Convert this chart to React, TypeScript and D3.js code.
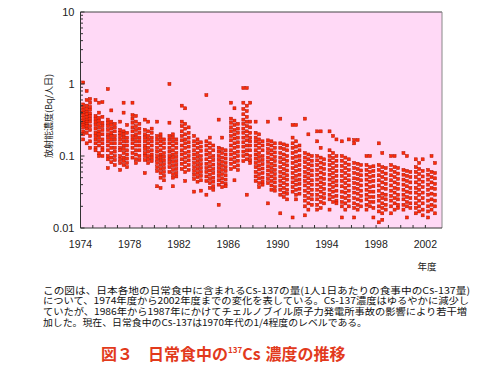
import React from "react";
import * as d3 from "d3";

// survey years (fiscal year)
const years = [
  1974, 1975, 1976, 1977, 1978, 1979, 1980, 1981, 1982, 1983,
  1984, 1985, 1986, 1987, 1988, 1989, 1990, 1991, 1992, 1993,
  1994, 1995, 1996, 1997, 1998, 1999, 2000, 2001, 2002,
];

// Cs-137 in daily diet (Bq/person/day), three sample groups per year
const groupA = [
  [1.05, 0.52, 0.47, 0.43, 0.4, 0.37, 0.34, 0.31, 0.29, 0.27, 0.25, 0.22, 0.2, 0.17],
  [0.6, 0.36, 0.33, 0.3, 0.27, 0.24, 0.21, 0.19, 0.17, 0.15, 0.13, 0.12],
  [0.85, 0.32, 0.29, 0.26, 0.23, 0.2, 0.18, 0.16, 0.14, 0.12, 0.1, 0.09, 0.068],
  [0.3, 0.23, 0.21, 0.19, 0.17, 0.15, 0.13, 0.12, 0.1, 0.09, 0.08, 0.064],
  [0.55, 0.37, 0.33, 0.29, 0.25, 0.22, 0.19, 0.17, 0.15, 0.13, 0.11, 0.095],
  [0.32, 0.23, 0.2, 0.18, 0.16, 0.14, 0.125, 0.11, 0.1, 0.088, 0.058],
  [0.3, 0.19, 0.17, 0.15, 0.13, 0.115, 0.1, 0.09, 0.08, 0.07, 0.062, 0.038],
  [1.0, 0.29, 0.19, 0.17, 0.15, 0.13, 0.115, 0.1, 0.09, 0.08, 0.07, 0.06],
  [0.5, 0.3, 0.26, 0.22, 0.19, 0.165, 0.14, 0.12, 0.105, 0.09, 0.078, 0.066],
  [0.19, 0.16, 0.14, 0.12, 0.105, 0.092, 0.08, 0.07, 0.062, 0.055, 0.048, 0.032],
  [0.7, 0.16, 0.14, 0.12, 0.105, 0.09, 0.078, 0.068, 0.06, 0.052, 0.045, 0.029],
  [0.32, 0.13, 0.115, 0.1, 0.088, 0.077, 0.068, 0.06, 0.053, 0.046, 0.04, 0.021],
  [0.55, 0.33, 0.29, 0.25, 0.22, 0.19, 0.165, 0.14, 0.12, 0.105, 0.09, 0.078, 0.066],
  [0.88, 0.55, 0.45, 0.38, 0.32, 0.28, 0.24, 0.21, 0.18, 0.155, 0.135, 0.115, 0.1, 0.085],
  [0.3, 0.21, 0.18, 0.16, 0.14, 0.12, 0.105, 0.092, 0.08, 0.07, 0.06, 0.052, 0.045],
  [0.3, 0.165, 0.145, 0.125, 0.11, 0.095, 0.083, 0.072, 0.063, 0.055, 0.048, 0.042, 0.022],
  [0.33, 0.15, 0.13, 0.11, 0.095, 0.082, 0.07, 0.06, 0.052, 0.045, 0.039, 0.034, 0.029, 0.016],
  [0.27, 0.18, 0.15, 0.13, 0.11, 0.094, 0.08, 0.068, 0.058, 0.05, 0.043, 0.037, 0.032, 0.014],
  [0.33, 0.11, 0.095, 0.082, 0.07, 0.06, 0.052, 0.045, 0.039, 0.033, 0.028, 0.024, 0.02, 0.015],
  [0.22, 0.16, 0.1, 0.087, 0.075, 0.064, 0.055, 0.047, 0.04, 0.034, 0.029, 0.025, 0.021, 0.018],
  [0.22, 0.12, 0.1, 0.087, 0.075, 0.064, 0.055, 0.047, 0.04, 0.034, 0.029, 0.025, 0.018],
  [0.16, 0.1, 0.086, 0.073, 0.062, 0.053, 0.045, 0.038, 0.032, 0.027, 0.023, 0.02, 0.014],
  [0.167, 0.15, 0.08, 0.068, 0.058, 0.049, 0.042, 0.036, 0.031, 0.026, 0.022, 0.019, 0.014],
  [0.1, 0.075, 0.064, 0.055, 0.047, 0.04, 0.034, 0.029, 0.025, 0.021, 0.018],
  [0.15, 0.075, 0.064, 0.054, 0.046, 0.039, 0.033, 0.028, 0.024, 0.02, 0.017, 0.012],
  [0.1, 0.075, 0.064, 0.054, 0.046, 0.039, 0.033, 0.028, 0.024, 0.02, 0.016],
  [0.11, 0.064, 0.055, 0.047, 0.04, 0.034, 0.029, 0.025, 0.021, 0.018],
  [0.09, 0.07, 0.06, 0.051, 0.043, 0.036, 0.031, 0.026, 0.022, 0.019, 0.016],
  [0.064, 0.055, 0.047, 0.04, 0.034, 0.029, 0.024, 0.02, 0.017, 0.014],
];
const groupB = [
  [0.8, 0.6, 0.5, 0.45, 0.41, 0.38, 0.35, 0.32, 0.3, 0.28, 0.26, 0.24, 0.21, 0.15],
  [0.55, 0.4, 0.34, 0.31, 0.28, 0.25, 0.22, 0.2, 0.18, 0.16, 0.14, 0.11, 0.1],
  [0.43, 0.3, 0.27, 0.24, 0.21, 0.19, 0.17, 0.15, 0.13, 0.11, 0.095, 0.082],
  [0.55, 0.4, 0.22, 0.2, 0.18, 0.16, 0.14, 0.125, 0.11, 0.095, 0.085, 0.075],
  [0.36, 0.3, 0.26, 0.23, 0.2, 0.18, 0.16, 0.14, 0.12, 0.105, 0.09, 0.08],
  [0.3, 0.22, 0.19, 0.17, 0.15, 0.13, 0.115, 0.1, 0.09, 0.08],
  [0.2, 0.18, 0.16, 0.14, 0.12, 0.105, 0.095, 0.085, 0.075, 0.066, 0.058, 0.05, 0.036],
  [0.2, 0.18, 0.16, 0.14, 0.12, 0.105, 0.094, 0.083, 0.073, 0.064, 0.056, 0.05, 0.038],
  [0.46, 0.28, 0.24, 0.2, 0.17, 0.15, 0.13, 0.11, 0.095, 0.082, 0.07, 0.06, 0.045],
  [0.17, 0.15, 0.13, 0.11, 0.097, 0.085, 0.075, 0.066, 0.058, 0.051, 0.044],
  [0.18, 0.15, 0.13, 0.11, 0.096, 0.083, 0.072, 0.063, 0.055, 0.048, 0.042, 0.036],
  [0.18, 0.125, 0.11, 0.095, 0.083, 0.073, 0.064, 0.056, 0.049, 0.043, 0.037],
  [0.46, 0.31, 0.27, 0.23, 0.2, 0.175, 0.15, 0.13, 0.11, 0.095, 0.082, 0.07, 0.046],
  [0.88, 0.5, 0.42, 0.35, 0.3, 0.26, 0.22, 0.19, 0.165, 0.14, 0.12, 0.105, 0.09, 0.029],
  [0.2, 0.17, 0.15, 0.13, 0.11, 0.097, 0.085, 0.074, 0.065, 0.056, 0.049, 0.042, 0.037],
  [0.16, 0.14, 0.12, 0.105, 0.09, 0.078, 0.068, 0.06, 0.052, 0.045, 0.039, 0.034],
  [0.145, 0.125, 0.105, 0.09, 0.077, 0.066, 0.057, 0.049, 0.042, 0.036, 0.031, 0.027],
  [0.27, 0.16, 0.135, 0.115, 0.098, 0.084, 0.072, 0.062, 0.053, 0.046, 0.04, 0.034, 0.029, 0.025],
  [0.2, 0.105, 0.09, 0.077, 0.066, 0.057, 0.049, 0.042, 0.036, 0.031, 0.026, 0.022, 0.018],
  [0.22, 0.13, 0.095, 0.081, 0.069, 0.059, 0.05, 0.043, 0.037, 0.032, 0.027, 0.023, 0.019],
  [0.19, 0.11, 0.094, 0.08, 0.068, 0.058, 0.05, 0.043, 0.037, 0.032, 0.027, 0.023],
  [0.095, 0.08, 0.068, 0.058, 0.049, 0.042, 0.036, 0.031, 0.026, 0.022, 0.018],
  [0.167, 0.078, 0.066, 0.056, 0.048, 0.041, 0.035, 0.03, 0.025, 0.021, 0.018],
  [0.1, 0.07, 0.06, 0.051, 0.044, 0.037, 0.032, 0.027, 0.023, 0.02],
  [0.11, 0.07, 0.06, 0.051, 0.043, 0.036, 0.03, 0.026, 0.022, 0.019, 0.016, 0.013],
  [0.1, 0.07, 0.06, 0.051, 0.043, 0.036, 0.031, 0.026, 0.022, 0.018],
  [0.1, 0.062, 0.053, 0.045, 0.038, 0.032, 0.027, 0.023, 0.02, 0.014],
  [0.08, 0.066, 0.056, 0.047, 0.04, 0.034, 0.029, 0.024, 0.02, 0.017],
  [0.1, 0.06, 0.051, 0.043, 0.036, 0.03, 0.025, 0.021, 0.018],
];
const groupC = [
  [0.62, 0.55, 0.48, 0.44, 0.39, 0.36, 0.33, 0.3, 0.26, 0.23, 0.19, 0.16, 0.13],
  [0.56, 0.35, 0.29, 0.26, 0.23, 0.2, 0.17, 0.15, 0.13, 0.12, 0.1],
  [0.28, 0.25, 0.22, 0.19, 0.17, 0.15, 0.13, 0.115, 0.1, 0.088, 0.075],
  [0.27, 0.21, 0.18, 0.16, 0.14, 0.12, 0.105, 0.092, 0.08, 0.07],
  [0.28, 0.24, 0.21, 0.18, 0.16, 0.14, 0.12, 0.1, 0.088],
  [0.24, 0.21, 0.18, 0.16, 0.14, 0.12, 0.105, 0.095, 0.085],
  [0.17, 0.15, 0.13, 0.11, 0.098, 0.087, 0.077, 0.068, 0.06, 0.053, 0.046],
  [0.17, 0.15, 0.13, 0.11, 0.097, 0.085, 0.075, 0.066, 0.058, 0.052],
  [0.25, 0.21, 0.18, 0.155, 0.135, 0.115, 0.1, 0.087, 0.075, 0.064],
  [0.155, 0.135, 0.118, 0.1, 0.088, 0.077, 0.068, 0.06, 0.053, 0.046, 0.033],
  [0.14, 0.12, 0.1, 0.088, 0.076, 0.066, 0.058, 0.05, 0.044, 0.038, 0.034],
  [0.12, 0.105, 0.092, 0.08, 0.07, 0.062, 0.054, 0.047, 0.041, 0.038],
  [0.28, 0.24, 0.21, 0.18, 0.155, 0.135, 0.115, 0.1, 0.086, 0.074, 0.064],
  [0.55, 0.3, 0.25, 0.21, 0.18, 0.16, 0.14, 0.12, 0.1, 0.088, 0.08],
  [0.16, 0.14, 0.12, 0.1, 0.088, 0.077, 0.067, 0.058, 0.05, 0.044, 0.04],
  [0.15, 0.13, 0.112, 0.097, 0.085, 0.074, 0.064, 0.056, 0.049, 0.043, 0.037, 0.033],
  [0.14, 0.12, 0.1, 0.086, 0.074, 0.063, 0.054, 0.047, 0.04, 0.034, 0.03, 0.025],
  [0.14, 0.12, 0.1, 0.087, 0.075, 0.064, 0.055, 0.047, 0.041, 0.035, 0.03],
  [0.1, 0.086, 0.074, 0.063, 0.054, 0.046, 0.04, 0.034, 0.029, 0.025, 0.021],
  [0.09, 0.077, 0.066, 0.056, 0.048, 0.041, 0.035, 0.03, 0.026, 0.022],
  [0.17, 0.1, 0.086, 0.073, 0.062, 0.053, 0.045, 0.039, 0.033, 0.028, 0.024, 0.022],
  [0.17, 0.09, 0.076, 0.064, 0.054, 0.046, 0.039, 0.033, 0.028, 0.024, 0.02],
  [0.075, 0.063, 0.054, 0.046, 0.039, 0.033, 0.028, 0.024, 0.02],
  [0.072, 0.062, 0.053, 0.045, 0.038, 0.032, 0.027, 0.023, 0.019, 0.014],
  [0.068, 0.057, 0.048, 0.041, 0.035, 0.029, 0.025, 0.021, 0.018],
  [0.068, 0.057, 0.048, 0.041, 0.035, 0.029, 0.025, 0.021, 0.019],
  [0.06, 0.051, 0.043, 0.036, 0.031, 0.026, 0.022, 0.019],
  [0.09, 0.062, 0.052, 0.044, 0.037, 0.031, 0.026, 0.022, 0.018, 0.015],
  [0.08, 0.058, 0.049, 0.041, 0.035, 0.029, 0.024, 0.02, 0.016],
];

const groups = ["A", "B", "C"];
const xTickLabels = [1974, 1978, 1982, 1986, 1990, 1994, 1998, 2002];
const yTickLabels = ["0.01", "0.1", "1", "10"];

const captionLines = [
  "この図は、日本各地の日常食中に含まれるCs-137の量(1人1日あたりの食事中のCs-137量)",
  "について、1974年度から2002年度までの変化を表している。Cs-137濃度はゆるやかに減少し",
  "ていたが、1986年から1987年にかけてチェルノブイル原子力発電所事故の影響により若干増",
  "加した。現在、日常食中のCs-137は1970年代の1/4程度のレベルである。",
];
const captionWidths = [427, 426, 424, 324];

export default function App() {
  const width = 500;
  const height = 372;
  const left = 80.5;
  const right = 442;
  const top = 12;
  const bottom = 228;
  const font = "'Noto Sans CJK JP', 'Liberation Sans', sans-serif";

  const x = d3.scaleLinear().domain([1974, 2003.35]).range([left, right]);
  const y = d3.scaleLog().domain([0.01, 10]).range([bottom, top]);
  const sub = d3.scalePoint().domain(groups).range([0.22, 0.78]);

  const sets = [groupA, groupB, groupC];
  const points: { year: number; g: string; v: number }[] = [];
  years.forEach((yr, i) => {
    groups.forEach((g, gi) => {
      sets[gi][i].forEach((v) => points.push({ year: yr, g, v }));
    });
  });

  const yTicks = y.ticks();
  const majors = yTicks.filter((t) => yTickLabels.includes(String(t)));
  const sq = 3;

  return (
    <svg
      width={width}
      height={height}
      style={{ position: "fixed", left: 0, top: 0, background: "#fff" }}
      fontFamily={font}
    >
      <rect x={left} y={top} width={right - left} height={bottom - top} fill="#ffd9f6" />

      {points.map((p, i) => (
        <rect
          key={i}
          x={x(p.year + (sub(p.g) as number)) - sq / 2}
          y={y(p.v) - sq / 2}
          width={sq}
          height={sq}
          fill="#ff2a0a"
          stroke="#b01500"
          strokeWidth={0.5}
        />
      ))}

      {/* frame */}
      <line x1={left} x2={right} y1={top} y2={top} stroke="#444" />
      <line x1={right} x2={right} y1={top} y2={bottom} stroke="#888" />
      <line x1={left} x2={left} y1={top} y2={bottom} stroke="#333" />
      <line x1={left} x2={right} y1={bottom} y2={bottom} stroke="#333" />

      {/* y ticks, inside */}
      {yTicks.map((t, i) => {
        const major = majors.includes(t);
        return (
          <line
            key={"yt" + i}
            x1={left}
            x2={left + (major ? 4 : 2.5)}
            y1={y(t)}
            y2={y(t)}
            stroke="#333"
          />
        );
      })}
      {yTickLabels.map((t) => (
        <text
          key={"yl" + t}
          x={left - 6}
          y={y(+t)}
          textAnchor="end"
          dominantBaseline="central"
          fontSize={11}
          fill="#222"
          fontFamily="'Liberation Sans', Arial, sans-serif"
        >
          {t}
        </text>
      ))}

      {/* x ticks, inside */}
      {years.map((yr) => (
        <line key={"xt" + yr} x1={x(yr)} x2={x(yr)} y1={bottom} y2={bottom - 3} stroke="#333" />
      ))}
      {xTickLabels.map((yr) => (
        <text
          key={"xl" + yr}
          x={x(yr)}
          y={248}
          textAnchor="middle"
          fontSize={10.5}
          fill="#222"
          fontFamily="'Liberation Sans', Arial, sans-serif"
        >
          {yr}
        </text>
      ))}
      <text x={427} y={270} textAnchor="middle" fontSize={9.5} fill="#222">
        年度
      </text>

      <text
        transform="translate(48,116) rotate(-90)"
        textAnchor="middle"
        dominantBaseline="central"
        fontSize={9}
        fill="#222"
      >
        放射能濃度(Bq/人日)
      </text>

      {captionLines.map((line, i) => (
        <text
          key={"c" + i}
          x={43}
          y={293.5 + i * 10.8}
          fontSize={9.5}
          fill="#111"
          textLength={captionWidths[i]}
          lengthAdjust="spacingAndGlyphs"
        >
          {line}
        </text>
      ))}

      <text x={101} y={360} fontSize={16} fill="#e23a1c" fontWeight="bold">
        <tspan>図３</tspan>
        <tspan x={148}>日常食中の</tspan>
        <tspan fontSize={8} dy={-7}>137</tspan>
        <tspan dy={7}>Cs</tspan>
        <tspan dx={5}>濃度の推移</tspan>
      </text>
    </svg>
  );
}
